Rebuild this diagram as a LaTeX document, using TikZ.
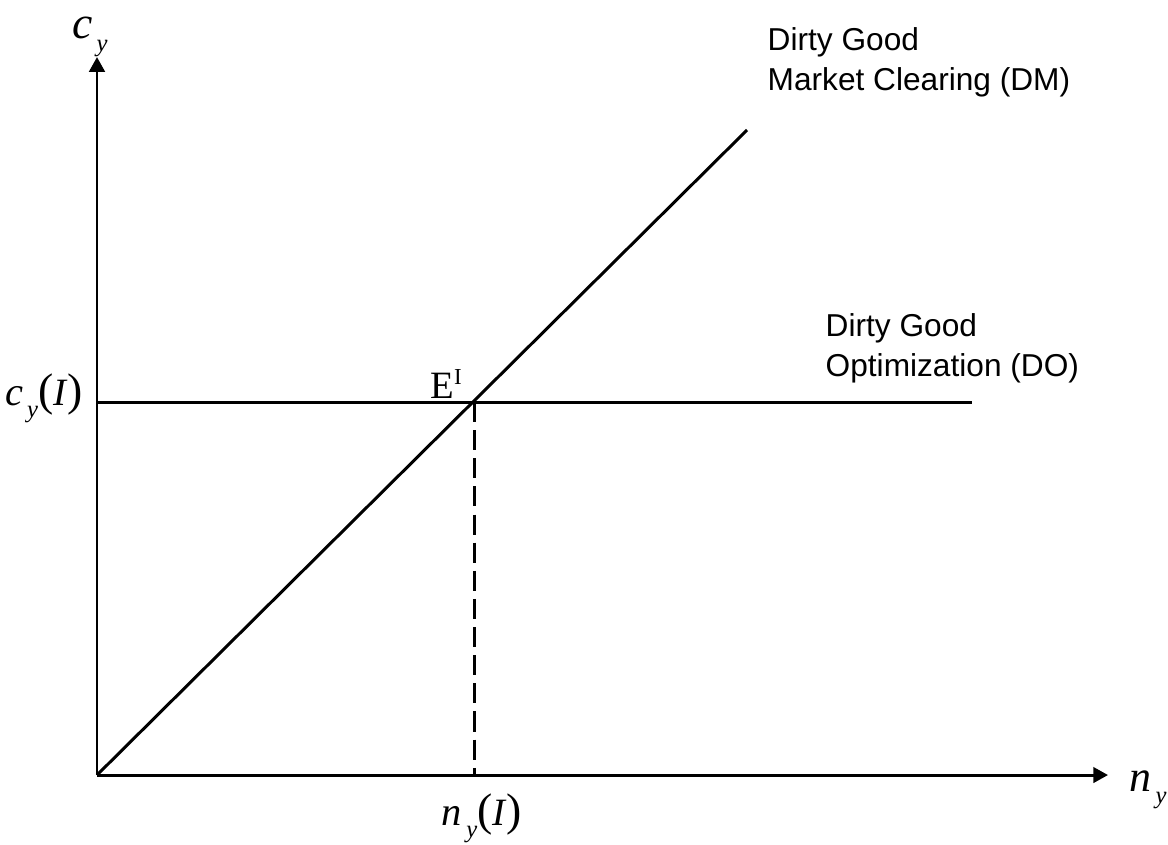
\documentclass[tikz,border=0pt]{standalone}
\usepackage{fontspec}
\setmainfont{Liberation Serif}
\setsansfont{Liberation Sans}
\usetikzlibrary{positioning,arrows.meta}

% italic letter with italic subscript
\newcommand{\vsub}[3][11.5]{{\fontsize{#1}{12}\selectfont\itshape #2}\raisebox{-0.7ex}{\fontsize{7}{7}\selectfont\itshape\,#3}}

\begin{document}
\begin{tikzpicture}[
  x=0.01cm,y=-0.01cm,
  axis/.style={line width=0.85pt,-{Triangle[length=4.2pt,width=4.4pt]}},
  curve/.style={line width=0.85pt},
  lbl/.style={inner sep=0pt,font=\fontsize{11}{12}\selectfont},
  curvelbl/.style={inner sep=0pt,align=left,anchor=north west,font=\sffamily\fontsize{9}{11.3}\selectfont}
]
\useasboundingbox (0,0) rectangle (1168,844);
\coordinate (O) at (97,775);
\coordinate (ytip) at (97,57);
\coordinate (xtip) at (1108,775);
\coordinate (dmend) at (747,130);
\coordinate (doleft) at (97,402);
\coordinate (doend) at (972,402);
\coordinate (E) at (474,402);
\coordinate (Ex) at (474,775);
% axes
\draw[axis] (O) -- (ytip);
\draw[axis] (O) -- (xtip);
% curves
\draw[curve] (O) -- (dmend);
\draw[curve] (doleft) -- (doend);
\draw[curve,dash pattern=on 5.7pt off 2.3pt] (E) -- (Ex);
% labels
\node[lbl] (cy) at (90,37) {\vsub[13]{c}{y}};
\node[lbl] (ny) at (1148,790) {\vsub[12.5]{n}{y}};
\node[lbl] (cyI) at (44,398) {\vsub{c}{y}{\fontsize{13}{13}\selectfont(}\textit{I}{\fontsize{13}{13}\selectfont)}};
\node[lbl] (nyI) at (482,818) {\vsub{n}{y}{\fontsize{13}{13}\selectfont(}\textit{I}{\fontsize{13}{13}\selectfont)}};
\node[lbl] (EI) at (447,384) {E\textsuperscript{\fontsize{6.5}{7}\selectfont I}};
\node[curvelbl] (DM) at (767,27) {Dirty Good\\Market Clearing (DM)};
\node[curvelbl] (DO) at (825,313) {Dirty Good\\Optimization (DO)};
\end{tikzpicture}
\end{document}
